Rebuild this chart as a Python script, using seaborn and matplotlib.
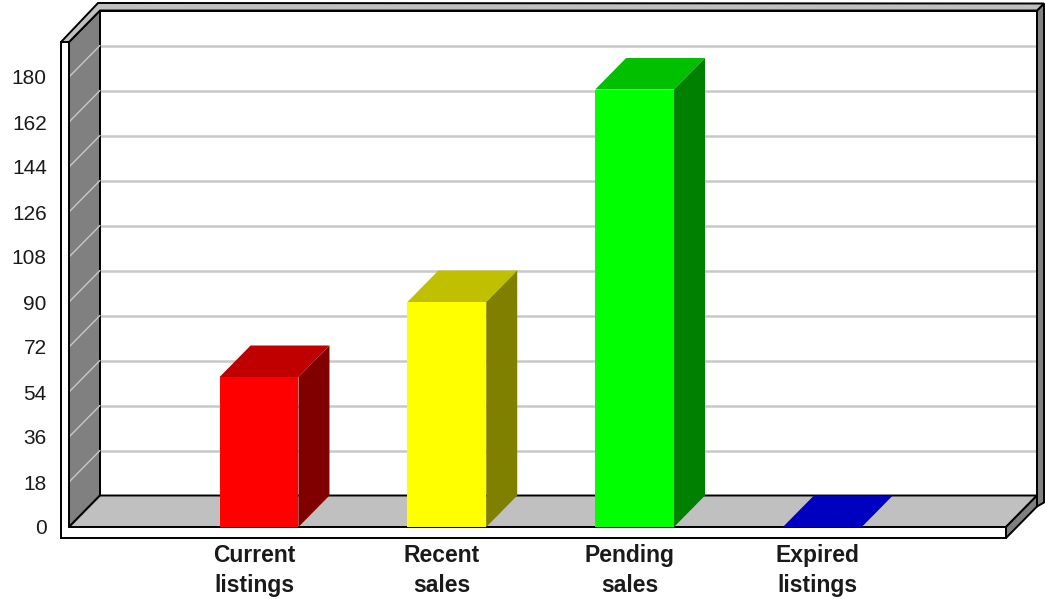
import matplotlib
matplotlib.use("Agg")
import matplotlib.pyplot as plt
import matplotlib.transforms as mtransforms
from matplotlib.patches import Polygon, Rectangle
import seaborn as sns

# Listing activity counts
categories = ["Current\nlistings", "Recent\nsales", "Pending\nsales", "Expired\nlistings"]
values = [60, 90, 175, 0]
front_colors = ["#ff0000", "#ffff00", "#00ff00", "#0000ff"]
top_colors = ["#c00000", "#c0c000", "#00c000", "#0000c0"]
side_colors = ["#800000", "#808000", "#008000", "#000080"]
y_ticks = [0, 18, 36, 54, 72, 90, 108, 126, 144, 162, 180]

sns.set_style("white")
plt.rcParams["font.family"] = ["Liberation Sans", "DejaVu Sans"]

W, H, DPI = 1046, 599, 100
fig = plt.figure(figsize=(W / DPI, H / DPI), dpi=DPI, facecolor="white")

# front plane of the plot box, in pixels from the lower-left corner
left_px, right_px = 69, 1006
bottom_px, top_px = 72, 557
ax = fig.add_axes([left_px / W, bottom_px / H,
                   (right_px - left_px) / W, (top_px - bottom_px) / H])

sns.barplot(x=categories, y=values, hue=categories, palette=front_colors,
            legend=False, width=0.42, saturation=1, linewidth=0,
            errorbar=None, ax=ax, zorder=3)
bars = sorted([p for p in ax.patches if isinstance(p, Rectangle)],
              key=lambda p: p.get_x())

xlo, xhi = -1.012, 3.978
ymax = 194
ax.set_xlim(xlo, xhi)
ax.set_ylim(0, ymax)

# pixel -> data conversion for the 3D depth offset
px_x = (right_px - left_px) / (xhi - xlo)
px_y = (top_px - bottom_px) / ymax
def ddx(p):
    return p / px_x
def ddy(p):
    return p / px_y

dx, dy = ddx(31), ddy(31.5)
EDGE = "black"

def poly(pts, fc, z, lw=1.4, ec=EDGE):
    ax.add_patch(Polygon(pts, closed=True, facecolor=fc, edgecolor=ec,
                         linewidth=lw, zorder=z, clip_on=False,
                         joinstyle="miter"))

# back wall
poly([(xlo + dx, dy), (xhi + dx, dy), (xhi + dx, ymax + dy), (xlo + dx, ymax + dy)],
     "white", 0.5)
for t in y_ticks[1:]:
    ax.plot([xlo + dx, xhi + dx], [t + dy, t + dy], color="#c8c8c8", lw=1.8,
            zorder=0.6, clip_on=False, solid_capstyle="butt")

# left side wall
poly([(xlo, 0), (xlo, ymax), (xlo + dx, ymax + dy), (xlo + dx, dy)], "#808080", 1)
for t in y_ticks[1:]:
    ax.plot([xlo, xlo + dx], [t, t + dy], color="#c8c8c8", lw=1.0,
            zorder=1.1, clip_on=False)

# floor
poly([(xlo, 0), (xhi, 0), (xhi + dx, dy), (xlo + dx, dy)], "#c0c0c0", 1.2)

# slab thickness: left wall edge and floor front edge
tx, ty = ddx(8), ddy(11)
poly([(xlo - tx, ymax), (xlo, ymax), (xlo, 0), (xhi, 0), (xhi, -ty), (xlo - tx, -ty)],
     "white", 2)
# floor right side
poly([(xhi, 0), (xhi, -ty), (xhi + dx, dy - ty), (xhi + dx, dy)], "#808080", 2)
# right wall edge
poly([(xhi + dx, dy - ty), (xhi + dx + ddx(7), dy - ty + ddy(4)),
      (xhi + dx + ddx(7), ymax + dy + ddy(7)), (xhi + dx, ymax + dy)], "#808080", 2)
# top edge of the walls
poly([(xlo - tx, ymax), (xlo, ymax), (xlo + dx, ymax + dy), (xhi + dx, ymax + dy),
      (xhi + dx + ddx(7), ymax + dy + ddy(7)), (xlo + ddx(29), ymax + ddy(39))],
     "#c0c0c0", 2)

# top and side faces of each bar
for p, tc, sc in zip(bars, top_colors, side_colors):
    x0, w, h = p.get_x(), p.get_width(), p.get_height()
    ax.add_patch(Polygon([(x0, h), (x0 + w, h), (x0 + w + dx, h + dy), (x0 + dx, h + dy)],
                         closed=True, facecolor=tc, edgecolor="none", zorder=3,
                         clip_on=False))
    if h > 0:
        ax.add_patch(Polygon([(x0 + w, 0), (x0 + w, h), (x0 + w + dx, h + dy),
                              (x0 + w + dx, dy)],
                             closed=True, facecolor=sc, edgecolor="none", zorder=3,
                             clip_on=False))

ax.set_yticks(y_ticks)
ax.tick_params(axis="y", length=0, pad=16, labelsize=15, labelcolor="#1a1a1a")
ax.tick_params(axis="x", length=0, pad=12, labelsize=16.5, labelcolor="#1a1a1a")
shift = mtransforms.ScaledTranslation(-5 / DPI, 0, fig.dpi_scale_trans)
for lbl in ax.get_xticklabels():
    lbl.set_fontweight("bold")
    lbl.set_linespacing(1.42)
    lbl.set_transform(lbl.get_transform() + shift)
ax.set_xlabel("")
ax.set_ylabel("")
ax.grid(False)
ax.set_facecolor("none")
for s in ax.spines.values():
    s.set_visible(False)

fig.savefig("out.png", dpi=DPI, facecolor="white")
